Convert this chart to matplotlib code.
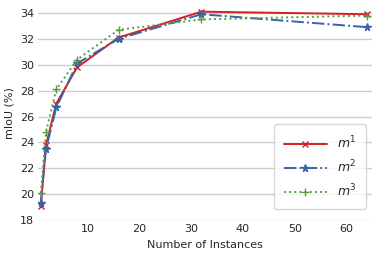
import matplotlib
matplotlib.use("Agg")
from matplotlib import pyplot as plt
import seaborn as sns

instances = [1, 2, 4, 8, 16, 32, 64]
m1 = [19.1, 23.8, 27.0, 29.8, 32.1, 34.1, 33.9]
m2 = [19.3, 23.5, 26.7, 30.1, 32.0, 33.9, 32.9]
m3 = [20.1, 24.8, 28.1, 30.4, 32.7, 33.5, 33.8]
yticks = [18, 20, 22, 24, 26, 28, 30, 32, 34]

sns.set_style("whitegrid")
plt.rcParams['font.family'] = ['DejaVu Sans']

fig, ax = plt.subplots(figsize=(3.82, 2.59), dpi=100)
ax.plot(instances, m1, color='#d42020', linestyle='-', marker='x', markersize=4.5,
        linewidth=1.4, label='$m^1$')
ax.plot(instances, m2, color='#3465a8', linestyle='-.', marker='*', markersize=5.5,
        linewidth=1.4, label='$m^2$')
ax.plot(instances, m3, color='#5a9a3c', linestyle=':', marker='+', markersize=5.5,
        linewidth=1.4, label='$m^3$')

ax.set_xlim(0.5, 65)
ax.set_ylim(18, 34.5)
ax.set_yticks(yticks)
ax.set_xticks([10, 20, 30, 40, 50, 60])
ax.grid(axis='x', visible=False)
ax.grid(axis='y', color='#cccccc', linewidth=1)
for s in ax.spines.values():
    s.set_visible(False)
ax.tick_params(labelsize=8, length=0, pad=3)
ax.set_xlabel('Number of Instances', fontsize=8)
ax.set_ylabel('mIoU (%)', fontsize=8)
ax.legend(loc='lower right', fontsize=9, frameon=True, borderpad=0.8,
          handlelength=3.4, labelspacing=0.6, bbox_to_anchor=(1.0, 0.022))

fig.subplots_adjust(left=0.1, right=0.975, top=0.975, bottom=0.15)
fig.savefig('out.png', dpi=100)
